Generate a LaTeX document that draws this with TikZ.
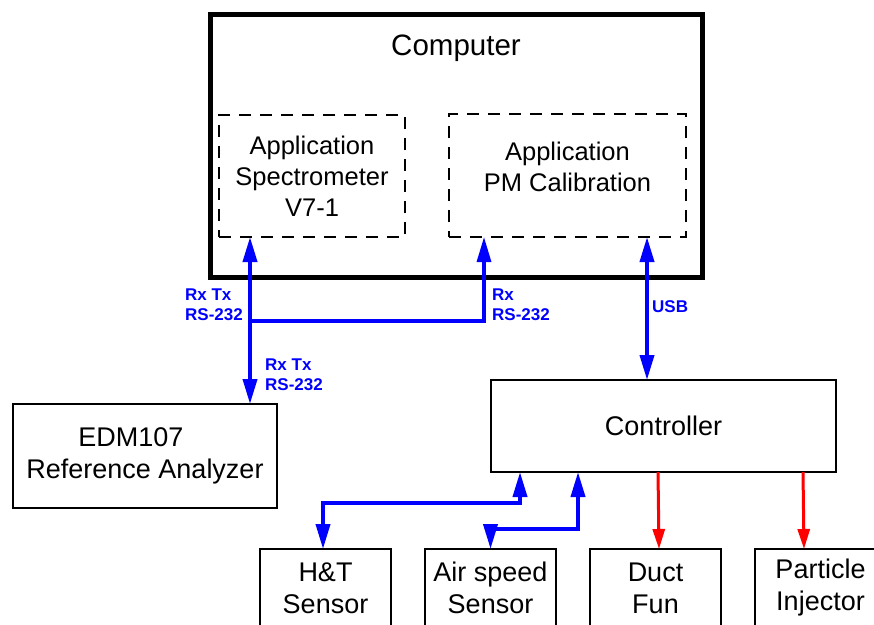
\documentclass[tikz,border=0pt]{standalone}
\usepackage{fontspec}
\setmainfont{Liberation Sans}
\usetikzlibrary{arrows.meta, positioning, calc}

\begin{document}
\begin{tikzpicture}[
    x=1pt, y=-1pt,
    box/.style={rectangle, draw, line width=2.5pt, outer sep=0pt, align=center, font=\fontsize{27}{32}\selectfont},
    app/.style={rectangle, draw, line width=2.5pt, dash pattern=on 12pt off 9pt, outer sep=0pt},
    apptext/.style={align=center, font=\fontsize{25.5}{31}\selectfont},
    lbl/.style={text=blue, align=left, inner sep=0pt, font=\fontsize{17}{20}\selectfont\bfseries},
    bus/.style={draw=blue, line width=3.8pt, {Triangle[length=25pt,width=14pt]}-{Triangle[length=25pt,width=14pt]}},
    busup/.style={draw=blue, line width=3.2pt, -{Triangle[length=25pt,width=14pt]}},
    ctl/.style={draw=red, line width=3pt, -{Triangle[length=20pt,width=12pt]}}
]
\clip (0,0) rectangle (874,624);

% computer and its applications
\node[box, line width=5pt, minimum width=492pt, minimum height=263pt] (computer) at (456,145.5) {};
\node[font=\fontsize{29.5}{34}\selectfont] (comptitle) at ($(computer.north)+(0,34)$) {Computer};
\node[app, minimum width=186pt, minimum height=122pt] (spec) at (312,176) {};
\node[apptext] (spectext) at (spec.center) {Application\\Spectrometer\\V7-1};
\node[app, minimum width=237pt, minimum height=123pt] (calib) at (567.5,175.5) {};
\node[apptext] (calibtext) at ($(calib.center)+(0,-9)$) {Application\\PM Calibration};

% analyzer and controller
\node[box, minimum width=264pt, minimum height=104pt] (edm) at (145,456) {EDM107\hspace*{28pt}\\Reference Analyzer};
\node[box, minimum width=345pt, minimum height=92pt] (ctrl) at (663.5,426) {Controller};

% devices
\node[box, minimum width=131pt, minimum height=78pt] (ht) at (325.5,588) {H\&T\\Sensor};
\node[box, minimum width=131pt, minimum height=78pt, right=34pt of ht] (air) {Air speed\\Sensor};
\node[box, minimum width=131pt, minimum height=78pt, right=34pt of air] (duct) {Duct\\Fun};
\node[box, minimum width=131pt, minimum height=78pt, right=34pt of duct] (inj) {Particle\\Injector};

% serial links
\coordinate (j1) at ($(spec.south)+(-62,84)$);
\draw[bus] ([xshift=-62pt]spec.south) -- ([xshift=105pt]edm.north);
\draw[busup] (j1) -| ([xshift=-83.5pt]calib.south);
\draw[bus] ([xshift=79.5pt]calib.south) -- ([xshift=-16.5pt]ctrl.north);

\node[lbl, anchor=east] (lbla) at ($(j1)+(-7,-16)$) {Rx Tx\\RS-232};
\node[lbl, anchor=west] (lblb) at ($(j1)+(242,-16)$) {Rx\\RS-232};
\node[lbl, anchor=west] (lblc) at ($(j1)+(15,54)$) {Rx Tx\\RS-232};
\node[lbl, anchor=west] (lblusb) at ($([xshift=79.5pt]calib.south)+(5,70)$) {USB};

% sensors and actuators
\draw[bus] ([xshift=-143.5pt]ctrl.south) -- ++(0,31) -| ([xshift=-2.5pt]ht.north);
\draw[bus] ([xshift=-85.5pt]ctrl.south) -- ++(0,57) -| (air.north);
\draw[ctl] ([xshift=-5.5pt]ctrl.south) -- ([xshift=3.5pt]duct.north);
\draw[ctl] ([xshift=139.5pt]ctrl.south) -- ([xshift=-16.5pt]inj.north);

\end{tikzpicture}
\end{document}
